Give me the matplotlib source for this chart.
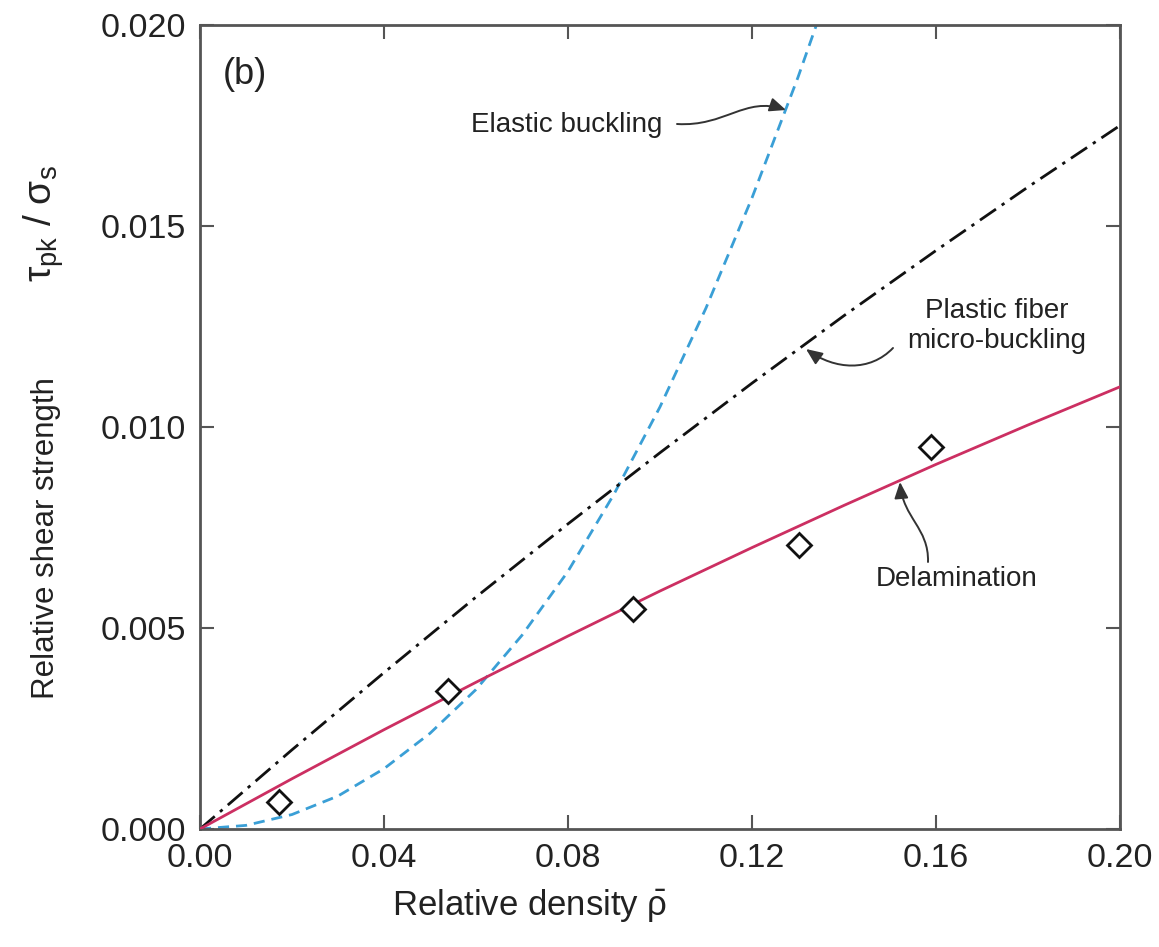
import matplotlib
matplotlib.use("Agg")
import matplotlib.pyplot as plt
from matplotlib.patches import FancyArrowPatch
from matplotlib.path import Path

# ---------------------------------------------------------------------------
# Data
# ---------------------------------------------------------------------------

# measured points (diamonds)
exp_density = [0.0172, 0.0540, 0.0941, 0.1302, 0.1589]
exp_strength = [0.00068, 0.00344, 0.00547, 0.00706, 0.00950]

# delamination (solid red)
delam_density = [0.0, 0.02, 0.04, 0.06, 0.08, 0.10, 0.12, 0.14, 0.16, 0.18, 0.20]
delam_strength = [0.0, 0.00125, 0.00247, 0.00365, 0.00480, 0.00592,
                  0.00700, 0.00805, 0.00907, 0.01005, 0.01100]

# plastic fiber micro-buckling (dash-dot black)
micro_density = [0.0, 0.02, 0.04, 0.06, 0.08, 0.10, 0.12, 0.14, 0.16, 0.18, 0.20]
micro_strength = [0.0, 0.00197, 0.00389, 0.00577, 0.00759, 0.00936,
                  0.01109, 0.01277, 0.01439, 0.01597, 0.01750]

# elastic buckling (dashed blue)
elastic_density = [0.0, 0.01, 0.02, 0.03, 0.04, 0.05, 0.06, 0.07, 0.08,
                   0.09, 0.10, 0.11, 0.12, 0.13, 0.134]
elastic_strength = [0.0, 0.00009, 0.00036, 0.00082, 0.00150, 0.00238, 0.00347,
                    0.00482, 0.00641, 0.00833, 0.01050, 0.01296, 0.01570,
                    0.01870, 0.02000]

x_ticks = [0.00, 0.04, 0.08, 0.12, 0.16, 0.20]
y_ticks = [0.000, 0.005, 0.010, 0.015, 0.020]

# ---------------------------------------------------------------------------
# Style
# ---------------------------------------------------------------------------

plt.rcParams["font.family"] = ["Liberation Sans", "DejaVu Sans"]
plt.rcParams["mathtext.fontset"] = "custom"
plt.rcParams["mathtext.rm"] = "Liberation Sans"
plt.rcParams["mathtext.it"] = "Liberation Sans"
plt.rcParams["mathtext.default"] = "regular"

text_color = "#222222"
spine_color = "#555555"
red = "#cc2f62"
blue = "#3a9fd6"

W, H = 1159, 947


def px(x, y):
    """reference pixel -> figure fraction"""
    return x / W, 1 - y / H


fig = plt.figure(figsize=(W / 100, H / 100), dpi=100)
ax = fig.add_axes([200 / W, 1 - 829 / H, 920 / W, 804 / H])

ax.plot(elastic_density, elastic_strength, color=blue, lw=2.0,
        linestyle=(0, (4, 2.5)), zorder=2)
ax.plot(micro_density, micro_strength, color="#111111", lw=2.0,
        linestyle=(0, (7, 2.5, 1.2, 2.5)), zorder=2)
ax.plot(delam_density, delam_strength, color=red, lw=2.0, zorder=3)
ax.plot(exp_density, exp_strength, linestyle="none", marker="D",
        markersize=12, markerfacecolor="white", markeredgecolor="#111111",
        markeredgewidth=2.0, zorder=4)

ax.set_xlim(0, 0.20)
ax.set_ylim(0, 0.020)
ax.set_xticks(x_ticks)
ax.set_yticks(y_ticks)
ax.set_xticklabels([f"{v:.2f}" for v in x_ticks])
ax.set_yticklabels([f"{v:.3f}" for v in y_ticks])
ax.tick_params(direction="in", length=10, width=1.5, colors=spine_color,
               labelcolor=text_color, labelsize=24.5, pad=10,
               top=True, right=True)
for spine in ax.spines.values():
    spine.set_color(spine_color)
    spine.set_linewidth(2.0)

# axis titles
fig.text(*px(530, 905), r"Relative density $\bar{\rho}$",
         ha="center", va="center", fontsize=25, color=text_color)
fig.text(*px(46, 538), "Relative shear strength",
         ha="center", va="center", rotation=90, fontsize=22.5,
         color=text_color)
fig.text(*px(44, 223), r"$\tau_{pk}$ / $\sigma_{s}$",
         ha="center", va="center", rotation=90, fontsize=28,
         color=text_color)

# panel tag
fig.text(*px(245, 74), "(b)", fontsize=26, color=text_color,
         ha="center", va="center")

# annotations
fig.text(*px(567, 125), "Elastic buckling", fontsize=20, color=text_color,
         ha="center", va="center")
fig.text(*px(997, 326), "Plastic fiber\nmicro-buckling", fontsize=20,
         color=text_color, ha="center", va="center", linespacing=1.15)
fig.text(*px(957, 579), "Delamination", fontsize=20, color=text_color,
         ha="center", va="center")

arrow_kw = dict(arrowstyle="-|>,head_length=0.7,head_width=0.3",
                color="#333333", lw=1.4, mutation_scale=14, zorder=5,
                transform=fig.transFigure)
curve = [Path.MOVETO, Path.CURVE4, Path.CURVE4, Path.CURVE4]
arrows = [
    [(677, 124), (725, 127), (745, 96), (786, 110)],
    [(893, 348), (870, 372), (835, 370), (806, 349)],
    [(928, 562), (929, 528), (903, 518), (900, 482)],
]
for pts in arrows:
    path = Path([px(*p) for p in pts], curve)
    fig.add_artist(FancyArrowPatch(path=path, **arrow_kw))

fig.savefig("out.png", dpi=100, facecolor="white")
